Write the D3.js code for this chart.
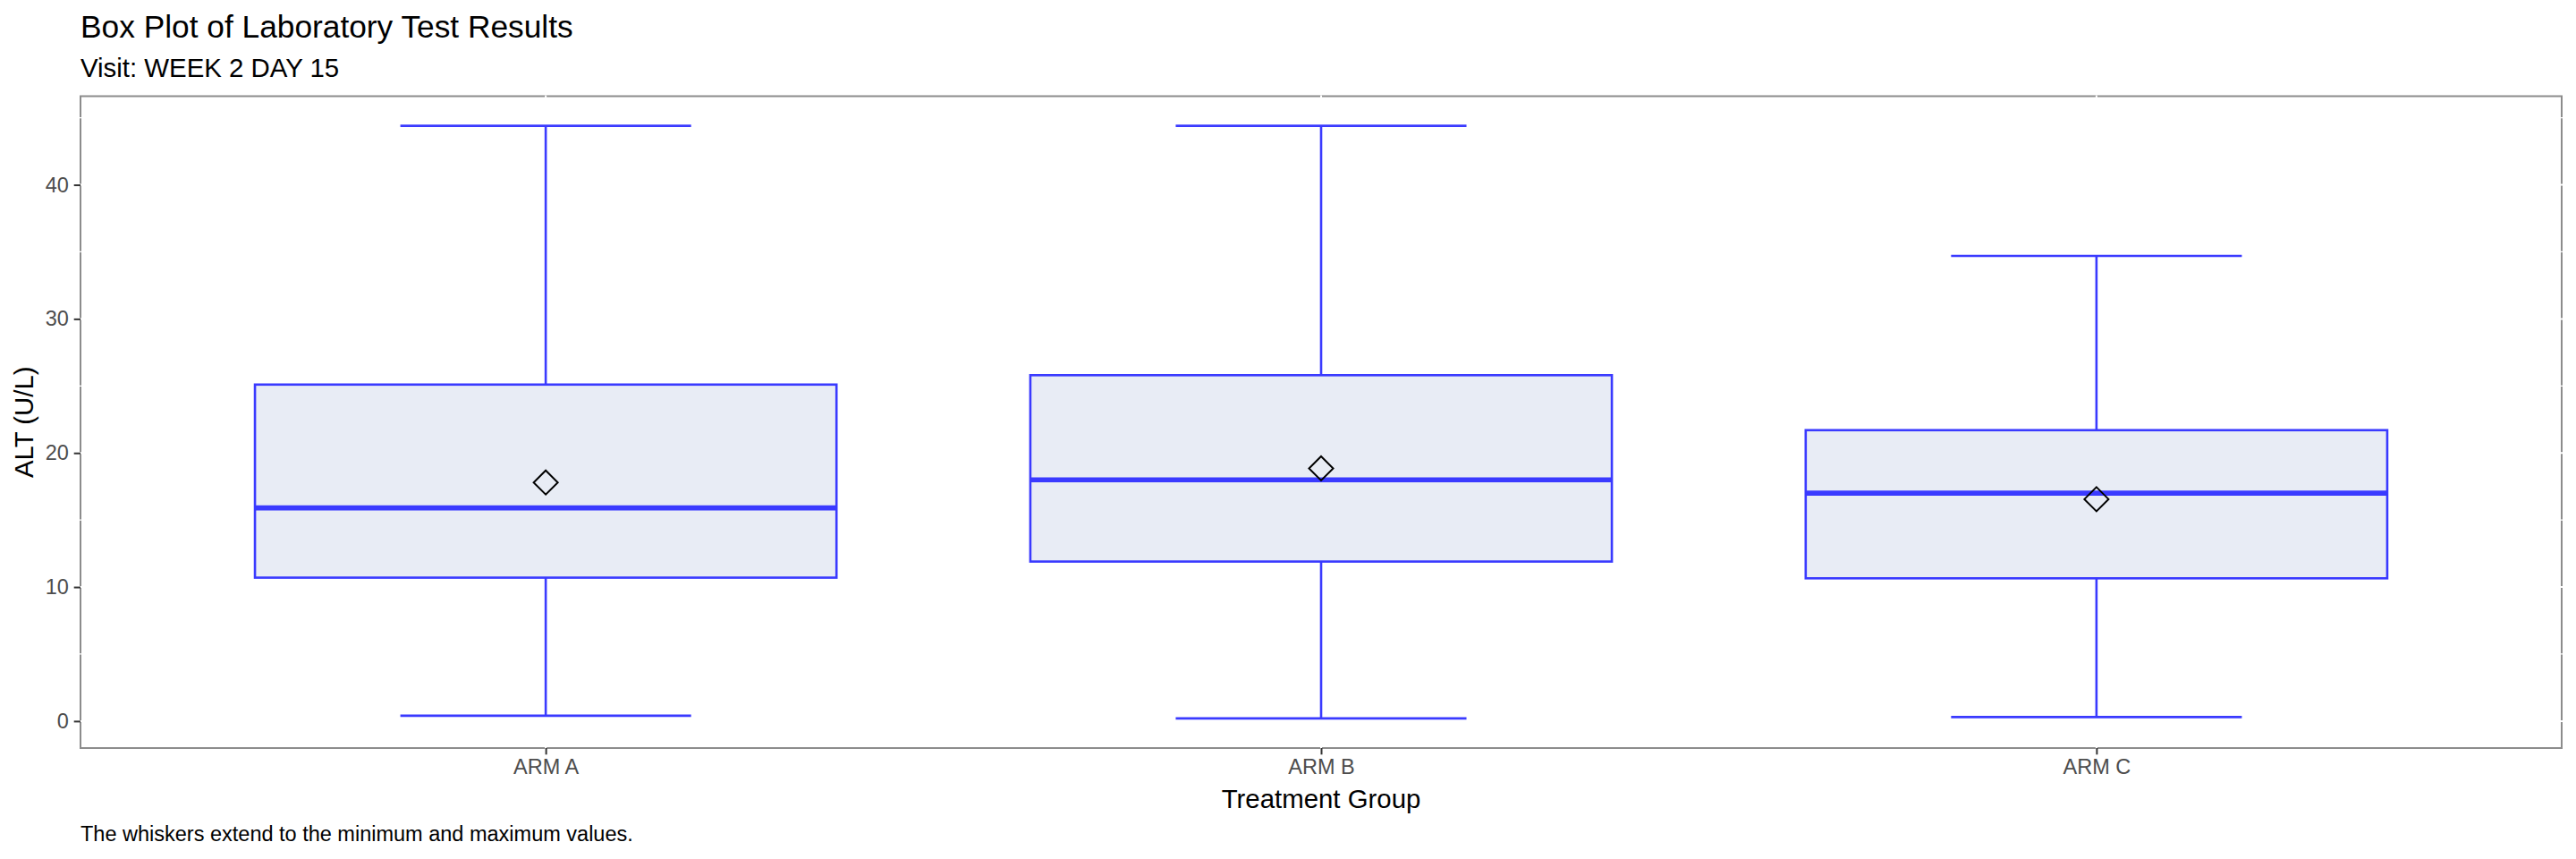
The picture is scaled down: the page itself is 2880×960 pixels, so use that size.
<!DOCTYPE html>
<html>
<head>
<meta charset="utf-8">
<script src="https://cdn.jsdelivr.net/npm/d3@7"></script>
<style>
  html, body { margin: 0; padding: 0; background: #ffffff; }
  svg { display: block; }
  text { font-family: "Liberation Sans", Arial, Helvetica, sans-serif; }
</style>
</head>
<body>
<svg id="chart" width="2880" height="960"></svg>
<script>
// ---- data ----
const categories = ["ARM A", "ARM B", "ARM C"];
const whiskerMin = [0.4, 0.2, 0.3];
const q1Values = [10.7, 11.9, 10.65];
const medianValues = [15.9, 18.0, 17.0];
const q3Values = [25.1, 25.8, 21.7];
const whiskerMax = [44.4, 44.4, 34.7];
const meanValues = [17.8, 18.85, 16.55];
const yTickValues = [0, 10, 20, 30, 40];
const yMinorValues = [5, 15, 25, 35, 45];

const titleText = "Box Plot of Laboratory Test Results";
const subtitleText = "Visit: WEEK 2 DAY 15";
const xTitleText = "Treatment Group";
const yTitleText = "ALT (U/L)";
const captionText = "The whiskers extend to the minimum and maximum values.";

// ---- layout ----
const panel = { left: 90, right: 2864, top: 107.5, bottom: 836 };
const boxColor = "#3a3aff";
const boxFill = "#e8ecf5";

const svg = d3.select("#chart");

const rows = categories.map((c, i) => ({
  cat: c, min: whiskerMin[i], q1: q1Values[i], med: medianValues[i],
  q3: q3Values[i], max: whiskerMax[i], mean: meanValues[i]
}));

const x = d3.scalePoint().domain(categories).range([panel.left, panel.right]).padding(0.6);
const step = x.step();
const boxW = step * 0.75;
const capW = boxW / 2;

const lo = d3.min(whiskerMin), hi = d3.max(whiskerMax);
const pad = (hi - lo) * 0.05;
const y = d3.scaleLinear().domain([lo - pad, hi + pad]).range([panel.bottom, panel.top]);

// panel background with outline
svg.append("rect")
  .attr("x", panel.left).attr("y", panel.top)
  .attr("width", panel.right - panel.left).attr("height", panel.bottom - panel.top)
  .attr("fill", "#ffffff").attr("stroke", "#8c8c8c").attr("stroke-width", 2);

// white gridlines (drawn over the outline, as in the reference)
const grid = svg.append("g");
grid.selectAll("line.minor").data(yMinorValues.filter(v => y(v) > panel.top && y(v) < panel.bottom))
  .join("line").attr("class", "minor")
  .attr("x1", panel.left - 1).attr("x2", panel.right + 1)
  .attr("y1", d => y(d)).attr("y2", d => y(d))
  .attr("stroke", "#ffffff").attr("stroke-width", 1.2);
grid.selectAll("line.major").data(yTickValues)
  .join("line").attr("class", "major")
  .attr("x1", panel.left - 1).attr("x2", panel.right + 1)
  .attr("y1", d => y(d)).attr("y2", d => y(d))
  .attr("stroke", "#ffffff").attr("stroke-width", 2);
grid.selectAll("line.vert").data(categories)
  .join("line").attr("class", "vert")
  .attr("x1", d => x(d)).attr("x2", d => x(d))
  .attr("y1", panel.top - 1).attr("y2", panel.bottom + 1)
  .attr("stroke", "#ffffff").attr("stroke-width", 2);

// boxes
const g = svg.append("g");
const box = g.selectAll("g.box").data(rows).join("g").attr("class", "box");

// whiskers
box.append("line")
  .attr("x1", d => x(d.cat)).attr("x2", d => x(d.cat))
  .attr("y1", d => y(d.max)).attr("y2", d => y(d.q3))
  .attr("stroke", boxColor).attr("stroke-width", 2.6);
box.append("line")
  .attr("x1", d => x(d.cat)).attr("x2", d => x(d.cat))
  .attr("y1", d => y(d.q1)).attr("y2", d => y(d.min))
  .attr("stroke", boxColor).attr("stroke-width", 2.6);
// caps
box.append("line")
  .attr("x1", d => x(d.cat) - capW / 2).attr("x2", d => x(d.cat) + capW / 2)
  .attr("y1", d => y(d.max)).attr("y2", d => y(d.max))
  .attr("stroke", boxColor).attr("stroke-width", 2.6);
box.append("line")
  .attr("x1", d => x(d.cat) - capW / 2).attr("x2", d => x(d.cat) + capW / 2)
  .attr("y1", d => y(d.min)).attr("y2", d => y(d.min))
  .attr("stroke", boxColor).attr("stroke-width", 2.6);
// box rect
box.append("rect")
  .attr("x", d => x(d.cat) - boxW / 2).attr("width", boxW)
  .attr("y", d => y(d.q3)).attr("height", d => y(d.q1) - y(d.q3))
  .attr("fill", boxFill).attr("stroke", boxColor).attr("stroke-width", 2.6);
// median
box.append("line")
  .attr("x1", d => x(d.cat) - boxW / 2).attr("x2", d => x(d.cat) + boxW / 2)
  .attr("y1", d => y(d.med)).attr("y2", d => y(d.med))
  .attr("stroke", boxColor).attr("stroke-width", 5.6);
// mean diamond
const dh = 13.5;
box.append("path")
  .attr("d", d => {
    const cx = x(d.cat), cy = y(d.mean);
    return `M${cx},${cy - dh}L${cx + dh},${cy}L${cx},${cy + dh}L${cx - dh},${cy}Z`;
  })
  .attr("fill", "none").attr("stroke", "#000000").attr("stroke-width", 2);

// y axis
const yAxis = d3.axisLeft(y).tickValues(yTickValues).tickSize(7.3).tickPadding(5.9);
const yg = svg.append("g").attr("transform", `translate(${panel.left},0)`).call(yAxis);
yg.select(".domain").remove();
yg.selectAll(".tick line").attr("stroke", "#333333").attr("stroke-width", 2);
yg.selectAll(".tick text").attr("fill", "#4d4d4d").attr("font-size", 23.5)
  .attr("font-family", "Liberation Sans, Arial, sans-serif");

// x axis
const xAxis = d3.axisBottom(x).tickSize(7.3).tickPadding(5.5);
const xg = svg.append("g").attr("transform", `translate(0,${panel.bottom})`).call(xAxis);
xg.select(".domain").remove();
xg.selectAll(".tick line").attr("stroke", "#333333").attr("stroke-width", 2);
xg.selectAll(".tick text").attr("fill", "#4d4d4d").attr("font-size", 23.5)
  .attr("font-family", "Liberation Sans, Arial, sans-serif");

// titles
svg.append("text").attr("x", panel.left).attr("y", 42)
  .attr("font-size", 35.3).attr("fill", "#000").text(titleText);
svg.append("text").attr("x", panel.left).attr("y", 86)
  .attr("font-size", 29.4).attr("fill", "#000").text(subtitleText);
svg.append("text").attr("x", (panel.left + panel.right) / 2).attr("y", 903)
  .attr("text-anchor", "middle").attr("font-size", 29.4).attr("fill", "#000").text(xTitleText);
svg.append("text")
  .attr("transform", `translate(37,${(panel.top + panel.bottom) / 2}) rotate(-90)`)
  .attr("text-anchor", "middle").attr("font-size", 29.4).attr("fill", "#000").text(yTitleText);
svg.append("text").attr("x", panel.left).attr("y", 940)
  .attr("font-size", 23.5).attr("fill", "#000").text(captionText);
</script>
</body>
</html>
